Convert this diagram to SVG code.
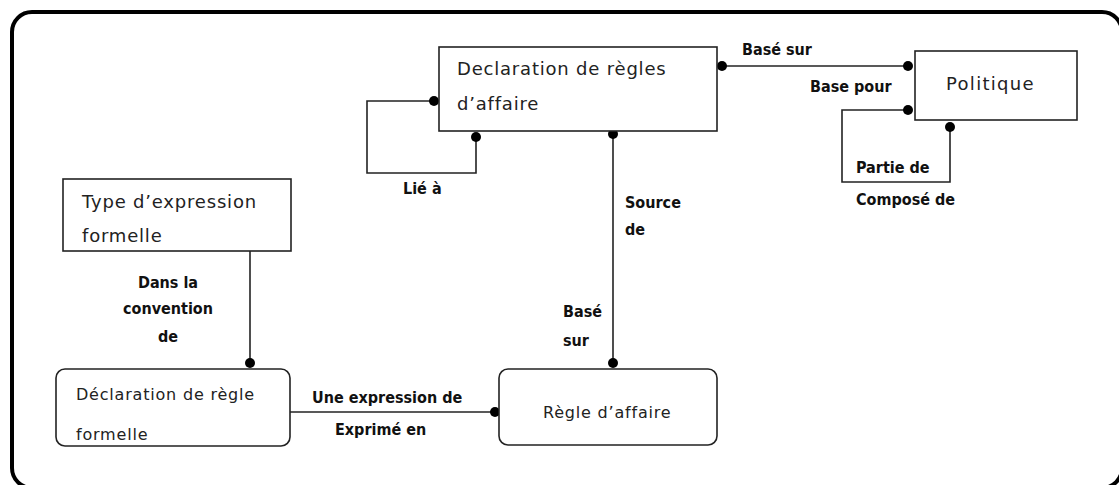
<svg xmlns="http://www.w3.org/2000/svg" width="1119" height="485" viewBox="0 0 1119 485">
<style>
.frame{fill:#fff;stroke:#000;stroke-width:4}
.box{fill:#fff;stroke:#222;stroke-width:1.6}
.nt{font-family:"DejaVu Sans","Liberation Sans",sans-serif;fill:#222;letter-spacing:0.8px}
.big{font-size:18px}
.small{font-size:16px}
.lbl{font-family:"DejaVu Sans Condensed","DejaVu Sans","Liberation Sans",sans-serif;font-stretch:condensed;font-weight:bold;font-size:16px;fill:#111}
.ln{fill:none;stroke:#222;stroke-width:1.6}
.dot{fill:#000}
</style>
<rect class="frame" x="12" y="12" width="1110" height="476" rx="20"/>
<g id="connectors">
<line class="ln" x1="722" y1="66" x2="908" y2="66"/>
<circle class="dot" cx="722" cy="66" r="5"/>
<circle class="dot" cx="908" cy="66" r="5"/>
<path class="ln" d="M434,101 H367 V173 H476 V137"/>
<circle class="dot" cx="434" cy="101" r="5"/>
<circle class="dot" cx="476" cy="137" r="5"/>
<path class="ln" d="M908,110 H842 V182 H950 V127"/>
<circle class="dot" cx="908" cy="110" r="5"/>
<circle class="dot" cx="950" cy="127" r="5"/>
<line class="ln" x1="613" y1="134" x2="613" y2="363"/>
<circle class="dot" cx="613" cy="134" r="5"/>
<circle class="dot" cx="613" cy="363" r="5"/>
<line class="ln" x1="250" y1="251" x2="250" y2="363"/>
<circle class="dot" cx="250" cy="363" r="5"/>
<line class="ln" x1="290" y1="412" x2="495" y2="412"/>
<circle class="dot" cx="495" cy="412" r="5"/>
<text class="lbl" x="742" y="55">Basé sur</text>
<text class="lbl" x="810" y="92">Base pour</text>
<text class="lbl" x="856" y="173">Partie de</text>
<text class="lbl" x="856" y="205">Composé de</text>
<text class="lbl" x="403" y="194">Lié à</text>
<text class="lbl" x="625" y="208">Source</text>
<text class="lbl" x="625" y="235">de</text>
<text class="lbl" x="563" y="317">Basé</text>
<text class="lbl" x="563" y="346">sur</text>
<text class="lbl" x="168" y="288" text-anchor="middle">Dans la</text>
<text class="lbl" x="168" y="314" text-anchor="middle">convention</text>
<text class="lbl" x="168" y="342" text-anchor="middle">de</text>
<text class="lbl" x="312" y="403">Une expression de</text>
<text class="lbl" x="335" y="435">Exprimé en</text>
</g>
<g id="decl-regles">
<rect class="box" x="439" y="47" width="278" height="84" stroke-width="2"/>
<text class="nt big" x="457" y="75">Declaration de règles</text>
<text class="nt big" x="457" y="110">d’affaire</text>
</g>
<g id="politique">
<rect class="box" x="915" y="51" width="162" height="69"/>
<text class="nt big" x="946" y="90" style="letter-spacing:1.3px">Politique</text>
</g>
<g id="type-expression">
<rect class="box" x="63" y="179" width="228" height="72"/>
<text class="nt big" x="82" y="208">Type d’expression</text>
<text class="nt big" x="82" y="242">formelle</text>
</g>
<g id="decl-formelle">
<rect class="box" x="56" y="369" width="234" height="77" rx="9"/>
<text class="nt small" x="76" y="400">Déclaration de règle</text>
<text class="nt small" x="76" y="440">formelle</text>
</g>
<g id="regle-affaire">
<rect class="box" x="499" y="369" width="218" height="76" rx="9"/>
<text class="nt small" x="543" y="418">Règle d’affaire</text>
</g>
</svg>
